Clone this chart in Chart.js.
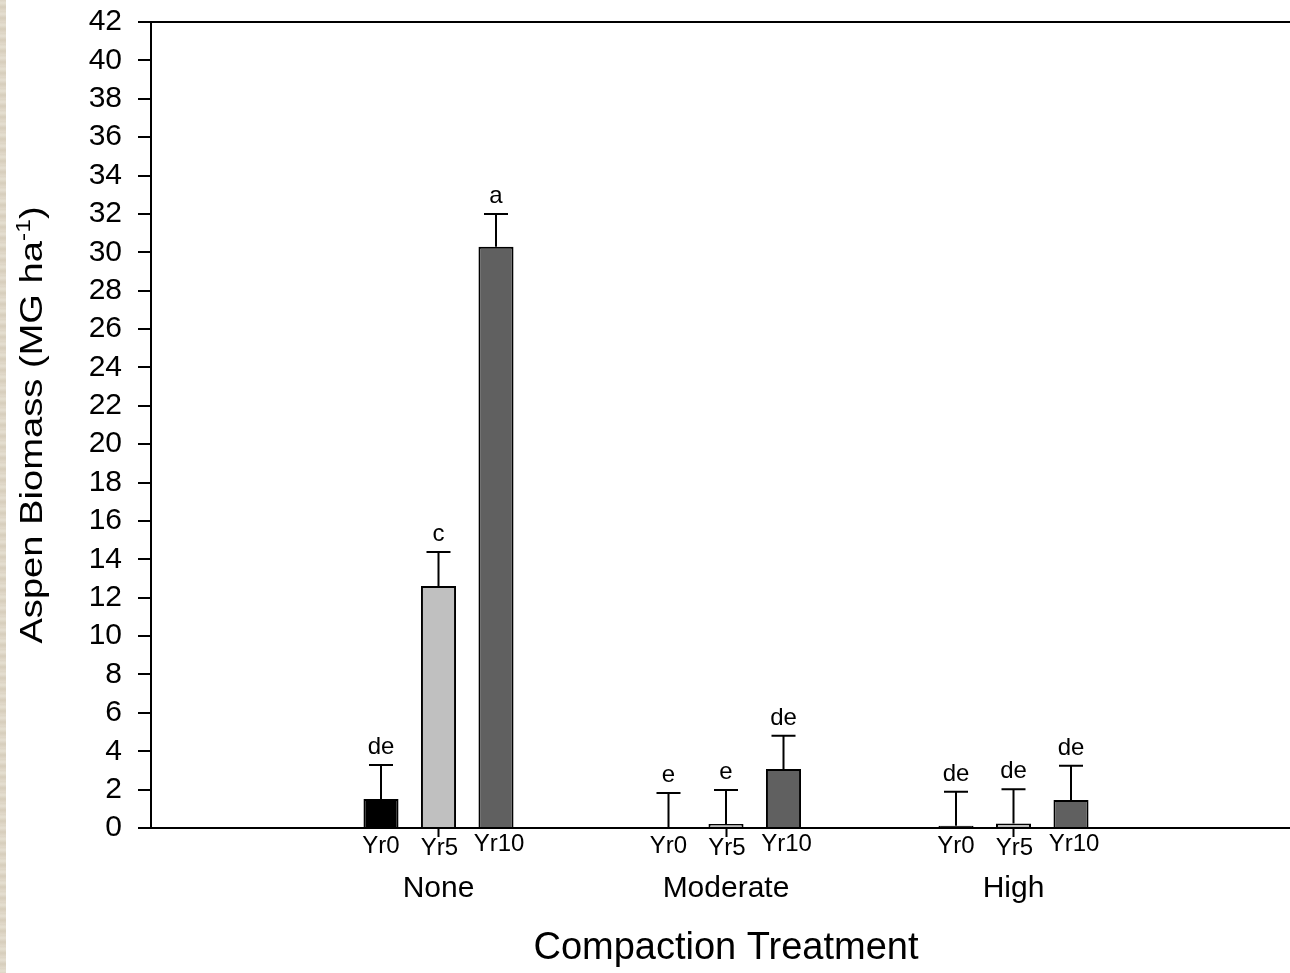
<!DOCTYPE html>
<html>
<head>
<meta charset="utf-8">
<title>Aspen Biomass by Compaction Treatment</title>
<script src="https://cdn.jsdelivr.net/npm/chart.js@4"></script>
<style>
  html, body { margin: 0; padding: 0; background: #fff; overflow: hidden; }
  #wrap { position: relative; width: 1310px; height: 973px; }
  #biomassChart { display: block; }
  #edge {
    position: absolute; left: 0; top: 0; width: 6px; height: 973px;
    background: repeating-linear-gradient(180deg, #dcd4c4 0px, #e5dfd1 3px, #d6cdbb 7px, #e1d9ca 11px);
  }
</style>
</head>
<body>
<div id="wrap"><canvas id="biomassChart" width="1310" height="973"></canvas></div>
<div id="edge"></div>
<script>
// Treatments along the x axis and the sampling years within each
const treatments = ['None', 'Moderate', 'High'];
const years = ['Yr0', 'Yr5', 'Yr10'];

// Mean aspen biomass (Mg/ha) for each year, by treatment
const yr0Means = [1.51, 0, 0.12];
const yr5Means = [12.61, 0.21, 0.24];
const yr10Means = [30.29, 3.07, 1.46];

// Standard errors, drawn upward from the mean
const yr0Errors = [1.77, 1.82, 1.77];
const yr5Errors = [1.77, 1.77, 1.78];
const yr10Errors = [1.71, 1.74, 1.79];

// Mean separation letters
const yr0Letters = ['de', 'e', 'de'];
const yr5Letters = ['c', 'e', 'de'];
const yr10Letters = ['a', 'de', 'de'];

// Y axis range
const yMax = 42;
const yStep = 2;

const FONT = '"Liberation Sans", Arial, Helvetica, sans-serif';

// blank slot on each side so the groups sit in from the axes
const pad = arr => [null, ...arr, null];
const xLabels = ['', ...treatments, ''];

const yearColors = ['#000000', '#c0c0c0', '#606060'];
const yearLabelDrop = [18, 20, 16.5];
const yearLabelShift = [0, 1, 3];

const datasets = [
  { label: years[0], data: pad(yr0Means), errors: pad(yr0Errors), letters: pad(yr0Letters) },
  { label: years[1], data: pad(yr5Means), errors: pad(yr5Errors), letters: pad(yr5Letters) },
  { label: years[2], data: pad(yr10Means), errors: pad(yr10Errors), letters: pad(yr10Letters) }
].map((ds, i) => Object.assign(ds, {
  backgroundColor: yearColors[i],
  borderColor: '#000',
  borderWidth: 2,
  borderSkipped: 'bottom',
  categoryPercentage: 0.6,
  barPercentage: 0.61
}));

// Error bars, letters above them and year names under each bar
const barAnnotations = {
  id: 'barAnnotations',
  afterDatasetsDraw(chart) {
    const ctx = chart.ctx;
    const y = chart.scales.y;
    const axisY = chart.scales.x.top;
    ctx.save();
    chart.data.datasets.forEach((ds, i) => {
      const meta = chart.getDatasetMeta(i);
      meta.data.forEach((bar, j) => {
        const v = ds.data[j];
        if (v === null || v === undefined) return;
        const base = y.getPixelForValue(v);
        const top = y.getPixelForValue(v + ds.errors[j]);

        ctx.strokeStyle = '#000';
        ctx.lineWidth = 2;
        ctx.beginPath();
        ctx.moveTo(bar.x, base);
        ctx.lineTo(bar.x, top);
        ctx.moveTo(bar.x - 12, top);
        ctx.lineTo(bar.x + 12, top);
        ctx.stroke();

        ctx.fillStyle = '#000';
        ctx.textAlign = 'center';
        ctx.textBaseline = 'alphabetic';
        ctx.font = '24px ' + FONT;
        ctx.fillText(ds.letters[j], bar.x, top - 11);

        ctx.textBaseline = 'middle';
        ctx.font = '24px ' + FONT;
        ctx.fillText(ds.label, bar.x + yearLabelShift[i], axisY + yearLabelDrop[i]);
      });
    });
    ctx.restore();
  }
};

// Rotated y axis title with a superscript unit
const yAxisTitle = {
  id: 'yAxisTitle',
  afterDraw(chart) {
    const ctx = chart.ctx;
    const area = chart.chartArea;
    const main = 'Aspen Biomass (MG ha';
    const sup = '-1';
    const close = ')';
    ctx.save();
    ctx.translate(42, (area.top + area.bottom) / 2);
    ctx.rotate(-Math.PI / 2);
    ctx.scale(1.23, 1);
    ctx.fillStyle = '#000';
    ctx.textAlign = 'left';
    ctx.textBaseline = 'alphabetic';
    ctx.font = '31px ' + FONT;
    const wMain = ctx.measureText(main).width;
    const wClose = ctx.measureText(close).width;
    ctx.font = '20px ' + FONT;
    const wSup = ctx.measureText(sup).width;
    let x = -(wMain + wSup + wClose) / 2;
    ctx.font = '31px ' + FONT;
    ctx.fillText(main, x, 0);
    x += wMain;
    ctx.font = '20px ' + FONT;
    ctx.fillText(sup, x, -12);
    x += wSup;
    ctx.font = '31px ' + FONT;
    ctx.fillText(close, x, 0);
    ctx.restore();
  }
};

const ctx = document.getElementById('biomassChart').getContext('2d');

new Chart(ctx, {
  type: 'bar',
  data: { labels: xLabels, datasets: datasets },
  options: {
    responsive: false,
    devicePixelRatio: 1,
    animation: false,
    layout: { padding: { left: 88.6, top: 22, right: 9, bottom: 1.8 } },
    plugins: {
      legend: { display: false },
      tooltip: { enabled: false }
    },
    scales: {
      x: {
        offset: false,
        afterFit: scale => {
          scale.height = 143.2;
          scale.paddingLeft = 0;
          scale.paddingRight = 0;
        },
        grid: {
          offset: false,
          drawOnChartArea: false,
          tickLength: 9,
          tickWidth: 2,
          tickColor: c => (c.tick && c.tick.label ? '#000' : 'rgba(0,0,0,0)')
        },
        border: { color: '#000', width: 2 },
        ticks: {
          color: '#000',
          font: { family: FONT, size: 30 },
          padding: 34,
          autoSkip: false,
          maxRotation: 0
        },
        title: {
          display: true,
          text: 'Compaction Treatment',
          color: '#000',
          font: { family: FONT, size: 38 },
          padding: { top: 18, bottom: 0 }
        }
      },
      y: {
        min: 0,
        max: yMax,
        afterFit: scale => {
          scale.width = 62.4;
          scale.paddingTop = 0;
          scale.paddingBottom = 0;
        },
        grid: {
          drawOnChartArea: true,
          color: c => (c.tick && c.tick.value === yMax ? '#000' : 'rgba(0,0,0,0)'),
          lineWidth: 2,
          tickLength: 13,
          tickWidth: 2,
          tickColor: '#000'
        },
        border: { color: '#000', width: 2 },
        ticks: {
          stepSize: yStep,
          autoSkip: false,
          color: '#000',
          font: { family: FONT, size: 30 },
          padding: 16
        }
      }
    }
  },
  plugins: [barAnnotations, yAxisTitle]
});
</script>
</body>
</html>
